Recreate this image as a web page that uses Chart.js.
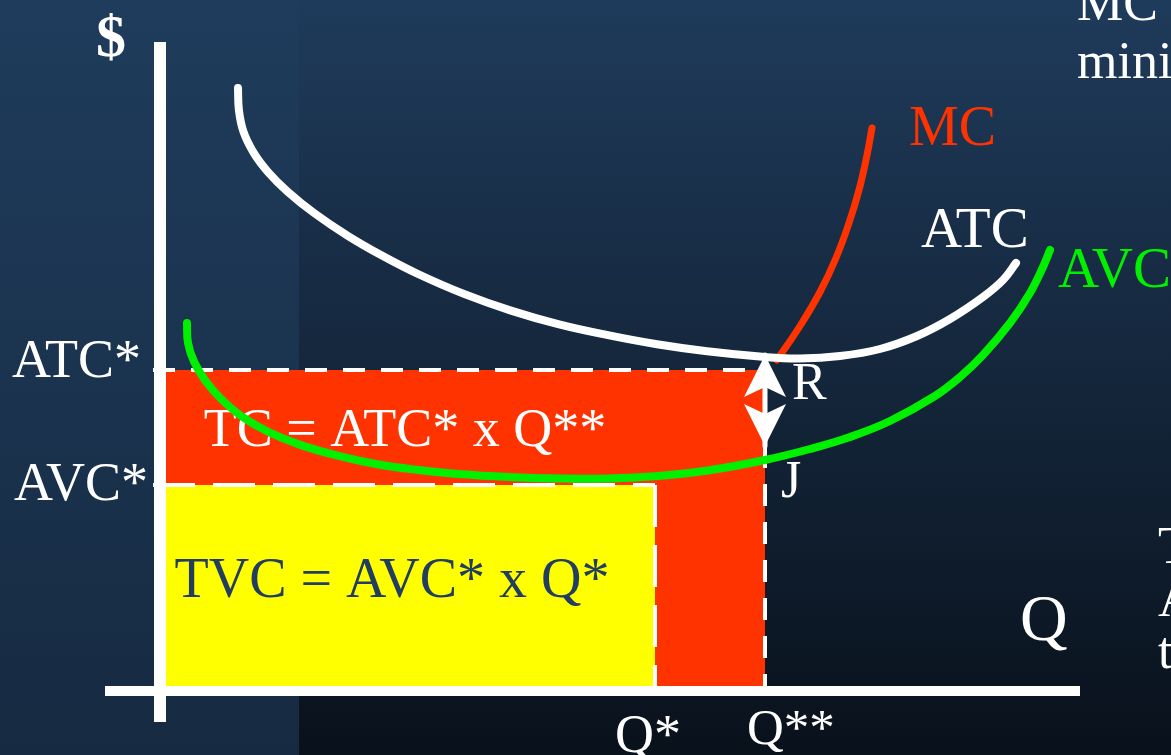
<!DOCTYPE html>
<html>
<head>
<meta charset="utf-8">
<script src="https://cdn.jsdelivr.net/npm/chart.js@4.4.1/dist/chart.umd.min.js"></script>
<style>
  html, body { margin: 0; padding: 0; background: #0b141e; overflow: hidden; }
  canvas { display: block; }
</style>
</head>
<body>
<canvas id="costChart" width="1171" height="755"></canvas>
<script>
// Quantity (Q) and cost ($) values
const atcQ    = [0.78, 0.789, 0.834, 0.939, 1.083, 1.274, 1.546, 1.878, 2.224, 2.58, 3.039, 3.51, 3.991, 4.479, 4.97, 5.47, 6.05, 6.40, 6.80, 7.20, 7.57, 7.90, 8.23, 8.43, 8.56];
const atcCost = [6.03, 5.81, 5.595, 5.379, 5.187, 4.996, 4.776, 4.552, 4.352, 4.17, 3.971, 3.804, 3.666, 3.558, 3.467, 3.397, 3.34, 3.325, 3.35, 3.42, 3.55, 3.72, 3.94, 4.11, 4.28];

const avcQ    = [0.27, 0.28, 0.342, 0.455, 0.612, 0.826, 1.086, 1.41, 1.795, 2.188, 2.585, 2.983, 3.482, 3.982, 4.482, 4.981, 5.478, 6.05, 6.50, 6.90, 7.30, 7.75, 8.00, 8.23, 8.50, 8.70, 8.83, 8.90];
const avcCost = [3.68, 3.48, 3.29, 3.101, 2.92, 2.74, 2.59, 2.459, 2.349, 2.265, 2.21, 2.17, 2.14, 2.125, 2.125, 2.15, 2.205, 2.31, 2.42, 2.54, 2.70, 2.95, 3.14, 3.36, 3.68, 3.98, 4.24, 4.41];

const mcQ    = [6.17, 6.40, 6.60, 6.76, 6.89, 6.99, 7.06, 7.12];
const mcCost = [3.31, 3.65, 3.99, 4.33, 4.68, 5.01, 5.31, 5.63];

// key levels
const atcStar = 3.21;   // ATC*
const avcStar = 2.06;   // AVC*
const qStar = 4.95;     // Q*
const qStarStar = 6.05; // Q**
const rectStart = 0.04;
const arrowTop = 3.36;  // near R
const arrowBottom = 2.45; // near J

// axis extents
const qAxis = [-0.55, 9.20];
const costAxis = [-0.31, 6.49];

const toPoints = (xs, ys) => xs.map((x, i) => ({ x: x, y: ys[i] }));

const RED = '#ff3300';
const GREEN = '#00f000';
const YELLOW = '#ffff00';
const FONT = '"Liberation Serif", "Times New Roman", serif';

// arrow head used as point style (tip sits at the point)
function makeArrowHead() {
    const c = document.createElement('canvas');
    c.width = 44;
    c.height = 84;
    const g = c.getContext('2d');
    g.fillStyle = '#ffffff';
    g.beginPath();
    g.moveTo(22, 42);
    g.lineTo(43, 84);
    g.lineTo(22, 74);
    g.lineTo(1, 84);
    g.closePath();
    g.fill();
    return c;
}
const arrowHead = makeArrowHead();

// datasets listed bottom to top
const layers = [
    { id: 'tc', data: toPoints([rectStart, qStarStar], [atcStar, atcStar]), fill: 'origin', backgroundColor: RED, borderWidth: 0 },
    { id: 'tvc', data: toPoints([rectStart, qStar], [avcStar, avcStar]), fill: 'origin', backgroundColor: YELLOW, borderWidth: 0 },
    { id: 'atcDash', data: toPoints([-0.07, qStarStar], [atcStar, atcStar]), borderColor: '#ffffff', borderWidth: 4, borderDash: [22, 16] },
    { id: 'qssDash', data: toPoints([qStarStar, qStarStar], [atcStar, 0]), borderColor: '#ffffff', borderWidth: 4, borderDash: [22, 16] },
    { id: 'avcDash', data: toPoints([-0.07, qStar], [avcStar, avcStar]), borderColor: '#ffffff', borderWidth: 4, borderDash: [42, 18] },
    { id: 'qsDash', data: toPoints([qStar, qStar], [avcStar, 0]), borderColor: '#ffffff', borderWidth: 4, borderDash: [42, 18] },
    { id: 'qAxis', data: toPoints(qAxis, [0, 0]), borderColor: '#ffffff', borderWidth: 10 },
    { id: 'costAxis', data: toPoints([0, 0], costAxis), borderColor: '#ffffff', borderWidth: 12 },
    { id: 'mc', data: toPoints(mcQ, mcCost), borderColor: RED, borderWidth: 7, tension: 0.4, borderCapStyle: 'round' },
    { id: 'atc', data: toPoints(atcQ, atcCost), borderColor: '#ffffff', borderWidth: 8, tension: 0.4, borderCapStyle: 'round' },
    { id: 'avc', data: toPoints(avcQ, avcCost), borderColor: GREEN, borderWidth: 8, tension: 0.4, borderCapStyle: 'round' },
    { id: 'arrow', data: toPoints([qStarStar, qStarStar], [arrowTop, arrowBottom]), borderColor: '#ffffff', borderWidth: 5,
      pointStyle: arrowHead, pointRadius: 10, pointRotation: [0, 180] }
];

const datasets = layers.map((d, i) => Object.assign({
    label: d.id,
    order: layers.length - i,
    fill: false,
    pointRadius: 0,
    borderColor: 'rgba(0,0,0,0)',
    borderCapStyle: 'butt',
    borderJoinStyle: 'round',
    tension: 0
}, d));

const tvcIndex = layers.findIndex(d => d.id === 'tvc');

function drawText(ctx, text, x, y, size, color, align, bold) {
    ctx.font = (bold ? 'bold ' : '') + size + 'px ' + FONT;
    ctx.fillStyle = color;
    ctx.textAlign = align || 'left';
    ctx.textBaseline = 'alphabetic';
    ctx.fillText(text, x, y);
}

const slidePlugin = {
    id: 'slide',
    beforeDraw(chart) {
        const ctx = chart.ctx;
        const w = chart.width, h = chart.height;
        ctx.save();
        const right = ctx.createLinearGradient(0, 0, 0, h);
        right.addColorStop(0, '#1f3b5b');
        right.addColorStop(1, '#09111b');
        ctx.fillStyle = right;
        ctx.fillRect(0, 0, w, h);
        const left = ctx.createLinearGradient(0, 0, 0, h);
        left.addColorStop(0, '#1f3c5c');
        left.addColorStop(1, '#162a41');
        ctx.fillStyle = left;
        ctx.fillRect(0, 0, 299, h);
        ctx.restore();
    },
    afterDatasetDraw(chart, args) {
        // area labels sit on the rectangles, below the curves
        if (args.index !== tvcIndex) return;
        const ctx = chart.ctx;
        ctx.save();
        drawText(ctx, 'TC = ATC* x Q**', 405, 446, 54, '#ffffff', 'center');
        drawText(ctx, 'TVC = AVC* x Q*', 392, 597, 56, '#213e61', 'center');
        ctx.restore();
    },
    afterDatasetsDraw(chart) {
        const ctx = chart.ctx;
        ctx.save();
        drawText(ctx, '$', 111, 56, 60, '#ffffff', 'center', true);
        drawText(ctx, 'MC', 909, 145, 56, RED);
        drawText(ctx, 'ATC', 921, 247, 57, '#ffffff');
        drawText(ctx, 'AVC', 1058, 287, 57, GREEN);
        drawText(ctx, 'ATC*', 12, 377, 54, '#ffffff');
        drawText(ctx, 'AVC*', 14, 500, 54, '#ffffff');
        drawText(ctx, 'R', 792, 399, 52, '#ffffff');
        drawText(ctx, 'J', 781, 497, 52, '#ffffff');
        drawText(ctx, 'Q', 1020, 640, 66, '#ffffff');
        drawText(ctx, 'Q*', 615, 752, 54, '#ffffff');
        drawText(ctx, 'Q**', 747, 744, 51, '#ffffff');
        // text from the slide's side notes, cut by the edge
        drawText(ctx, 'MC is', 1077, 20, 52, '#ffffff');
        drawText(ctx, 'minimum', 1077, 78, 52, '#ffffff');
        drawText(ctx, 'The', 1158, 563, 52, '#ffffff');
        drawText(ctx, 'ATC', 1158, 616, 52, '#ffffff');
        drawText(ctx, 'the', 1158, 668, 52, '#ffffff');
        ctx.restore();
    }
};

new Chart(document.getElementById('costChart').getContext('2d'), {
    type: 'line',
    data: { datasets: datasets },
    options: {
        responsive: false,
        animation: false,
        events: [],
        layout: { padding: 0, autoPadding: false },
        scales: {
            x: { type: 'linear', display: false, min: -1.60, max: 10.11 },
            y: { type: 'linear', display: false, min: -0.64, max: 6.91 }
        },
        plugins: {
            legend: { display: false },
            tooltip: { enabled: false }
        }
    },
    plugins: [slidePlugin]
});
</script>
</body>
</html>
